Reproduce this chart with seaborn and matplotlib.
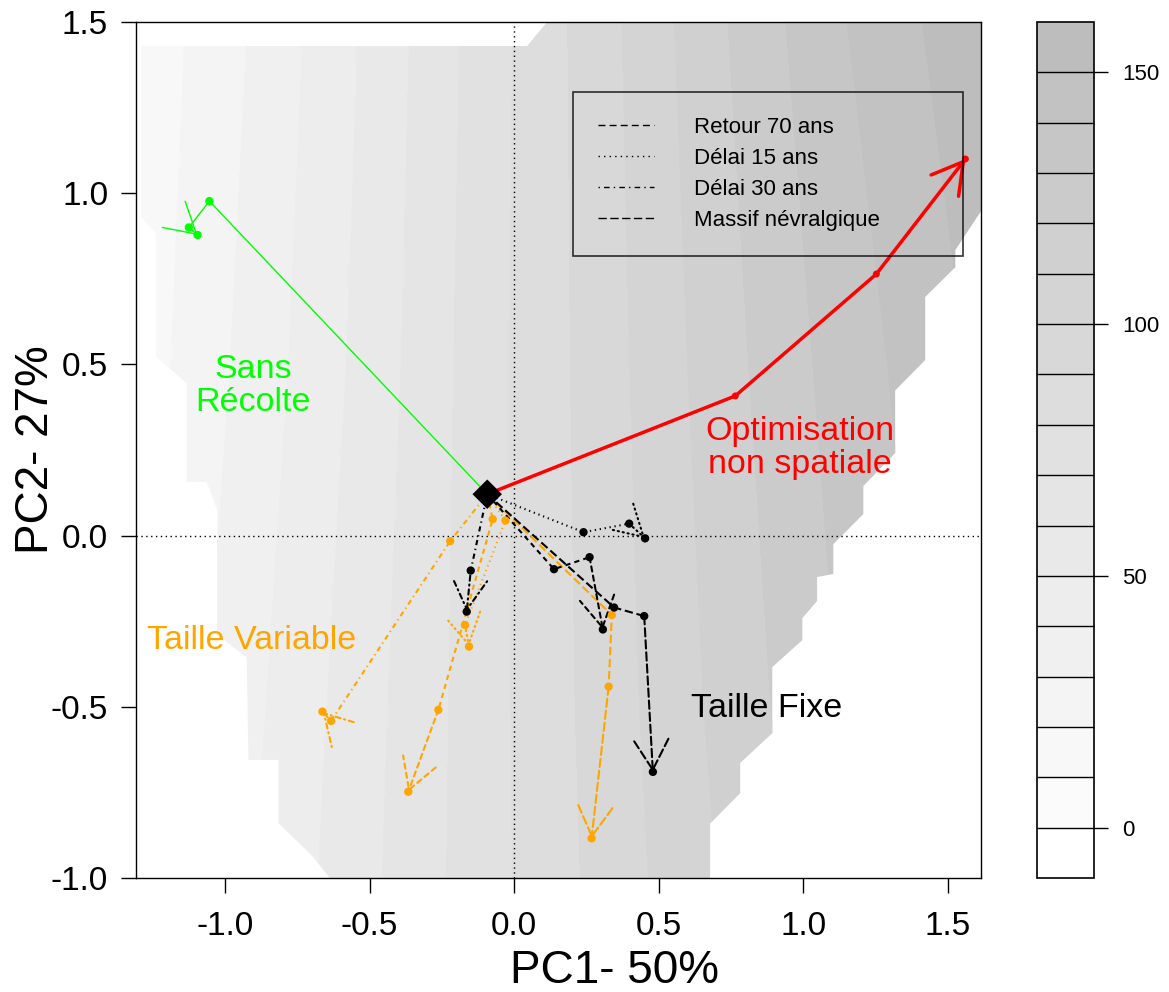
import matplotlib
matplotlib.use("Agg")
import matplotlib.pyplot as plt
from matplotlib.patches import Polygon, FancyArrowPatch
from matplotlib.lines import Line2D
import numpy as np
import seaborn as sns

# grey surface behind the trajectories, values
grid_x = [-1.31, -0.9, -0.5, -0.1, 0.3, 0.7, 1.1, 1.62]
grid_y = [-1.0, -0.5, 0.5, 1.5]
grid_z = [
    [20, 40, 58, 76, 93, 110, 127, 146],
    [18, 38, 57, 76, 94, 112, 129, 148],
    [14, 34, 54, 76, 95, 115, 133, 152],
    [12, 31, 52, 75, 96, 118, 138, 158],
]
levels = list(range(-10, 170, 10))
band_colors = ["#ffffff", "#fbfbfb", "#f8f8f8", "#f4f4f4", "#f0f0f0", "#ededed",
               "#e9e9e9", "#e5e5e5", "#e1e1e1", "#dddddd", "#d8d8d8", "#d4d4d4",
               "#d0d0d0", "#cbcbcb", "#c6c6c6", "#c2c2c2", "#bdbdbd"]

# outline of the area where the surface exists
hull_x = [-1.29, 0.045, 0.114, 1.62, 1.62, 1.526, 1.526, 1.422, 1.422, 1.318, 1.318,
          1.208, 1.208, 1.104, 1.104, 1.048, 1.048, 0.997, 0.997, 0.893, 0.893,
          0.782, 0.782, 0.678, 0.678, -0.637, -0.700, -0.815, -0.815, -0.919,
          -0.925, -1.027, -1.027, -1.063, -1.133, -1.133, -1.239, -1.239, -1.29]
hull_y = [1.43, 1.43, 1.5, 1.5, 0.954, 0.834, 0.784, 0.697, 0.513, 0.424, 0.241,
          0.145, 0.063, -0.025, -0.112, -0.121, -0.191, -0.241, -0.305, -0.384, -0.577,
          -0.664, -0.752, -0.841, -1.0, -1.0, -0.934, -0.840, -0.655, -0.655,
          -0.355, -0.29, 0.075, 0.157, 0.157, 0.445, 0.523, 0.883, 0.93]

start_x, start_y = -0.093, 0.121

sans_x = [-1.054, -1.125, -1.095]
sans_y = [0.977, 0.900, 0.878]
optim_x = [0.765, 1.253, 1.561]
optim_y = [0.408, 0.764, 1.100]

scenarios = ["Retour 70 ans", "Délai 15 ans", "Délai 30 ans", "Massif névralgique"]

# taille fixe (black), one path per scenario
fixe_x = [[0.138, 0.261, 0.307], [0.240, 0.398, 0.453],
          [-0.150, -0.164], [0.346, 0.450, 0.480]]
fixe_y = [[-0.098, -0.063, -0.274], [0.010, 0.035, -0.008],
          [-0.102, -0.222], [-0.210, -0.235, -0.690]]
# taille variable (orange)
var_x = [[-0.074, -0.262, -0.366], [-0.030, -0.170, -0.156],
         [-0.221, -0.633, -0.663], [0.338, 0.327, 0.268]]
var_y = [[0.048, -0.509, -0.748], [0.044, -0.261, -0.324],
         [-0.016, -0.541, -0.514], [-0.232, -0.441, -0.884]]

dash_styles = [(0, (2.5, 2.0)), (0, (0.6, 1.8)), (0, (0.6, 1.8, 2.5, 1.8)), (0, (4.0, 1.8))]
legend_dashes = [(0, (5, 3)), (0, (1, 3)), (0, (1, 3, 4, 3)), (0, (6, 2.5))]

sns.set_style("white")
plt.rcParams["font.family"] = ["Liberation Sans", "DejaVu Sans"]
plt.rcParams["text.color"] = "black"
plt.rcParams["axes.labelcolor"] = "black"
plt.rcParams["xtick.color"] = "black"
plt.rcParams["ytick.color"] = "black"

fig = plt.figure(figsize=(11.69, 9.92), dpi=100)
ax = fig.add_axes([0.1163, 0.1149, 0.7229, 0.8629])
cax = fig.add_axes([0.8871, 0.1149, 0.0488, 0.8629])

cs = ax.contourf(grid_x, grid_y, grid_z, levels=levels, colors=band_colors, zorder=0)
hull = Polygon(np.column_stack([hull_x, hull_y]), closed=True, transform=ax.transData)
cs.set_clip_path(hull)

ax.axhline(0, color="black", lw=1, ls=(0, (1, 2.5)), zorder=1)
ax.axvline(0, color="black", lw=1, ls=(0, (1, 2.5)), zorder=1)


def draw_path(xs, ys, color, lw, ls, msize):
    px = [start_x] + list(xs)
    py = [start_y] + list(ys)
    sns.lineplot(x=px[:-1], y=py[:-1], sort=False, estimator=None, color=color,
                 lw=lw, linestyle=ls, ax=ax, zorder=3)
    arrow = FancyArrowPatch((px[-2], py[-2]), (px[-1], py[-1]),
                            arrowstyle="->,head_length=21.7,head_width=12.5",
                            mutation_scale=1, color=color, lw=lw, linestyle=ls,
                            shrinkA=0, shrinkB=0, zorder=3)
    ax.add_patch(arrow)
    sns.scatterplot(x=list(xs), y=list(ys), color=color, s=msize ** 2,
                    edgecolor="none", ax=ax, zorder=4)


draw_path(sans_x, sans_y, "#00ff00", 1.0, "-", 6.0)
draw_path(optim_x, optim_y, "#ff0000", 2.5, "-", 5.0)
for xs, ys, ls in zip(var_x, var_y, dash_styles):
    draw_path(xs, ys, "#ffa500", 1.5, ls, 6.0)
for xs, ys, ls in zip(fixe_x, fixe_y, dash_styles):
    draw_path(xs, ys, "black", 1.5, ls, 6.0)

sns.scatterplot(x=[start_x], y=[start_y], marker="D", s=15 ** 2, color="black",
                edgecolor="none", ax=ax, zorder=5)

ax.text(-0.903, 0.437, "Sans\nRécolte", color="#00ff00", fontsize=24.5,
        ha="center", va="center", linespacing=1.1)
ax.text(0.990, 0.256, "Optimisation\nnon spatiale", color="#ff0000", fontsize=24.5,
        ha="center", va="center", linespacing=1.05)
ax.text(-0.907, -0.305, "Taille Variable", color="#ffa500", fontsize=24.5,
        ha="center", va="center")
ax.text(0.875, -0.504, "Taille Fixe", color="black", fontsize=24.5,
        ha="center", va="center")

handles = [Line2D([], [], color="black", lw=1, linestyle=ls) for ls in legend_dashes]
leg = ax.legend(handles, scenarios, loc="upper left",
                bbox_to_anchor=(0.5175, 0.7, 0.4608, 0.218), mode="expand",
                fontsize=16, frameon=True, fancybox=False,
                borderpad=1.12, labelspacing=0.45,
                handlelength=2.5, handletextpad=1.8, borderaxespad=0)
frame = leg.get_frame()
frame.set_facecolor("none")
frame.set_edgecolor("black")
frame.set_linewidth(1.2)

ax.set_xlim(-1.308, 1.615)
ax.set_ylim(-1.0, 1.5)
ax.set_xticks([-1.0, -0.5, 0.0, 0.5, 1.0, 1.5])
ax.set_yticks([-1.0, -0.5, 0.0, 0.5, 1.0, 1.5])
ax.set_xticklabels(["-1.0", "-0.5", "0.0", "0.5", "1.0", "1.5"])
ax.set_yticklabels(["-1.0", "-0.5", "0.0", "0.5", "1.0", "1.5"])
ax.tick_params(axis="both", direction="out", length=11, width=1, labelsize=24,
               color="black", labelcolor="black", left=True, bottom=True)
ax.tick_params(axis="x", pad=13)
ax.tick_params(axis="y", pad=9)
for sp in ax.spines.values():
    sp.set_visible(True)
    sp.set_color("black")
    sp.set_linewidth(1)

ax.set_xlabel("PC1- 50%", fontsize=33)
ax.xaxis.set_label_coords(0.566, -0.109)
ax.xaxis.label.set_va("center")
ax.set_ylabel("PC2- 27%", fontsize=33)
ax.yaxis.set_label_coords(-0.118, 0.5)
ax.yaxis.label.set_va("center")
ax.yaxis.label.set_ha("center")

cbar = fig.colorbar(cs, cax=cax, ticks=[0, 50, 100, 150], drawedges=True)
cbar.outline.set_linewidth(1.2)
cbar.outline.set_edgecolor("black")
cbar.dividers.set_color("black")
cbar.dividers.set_linewidth(1)
cax.tick_params(labelsize=16, length=10, width=1, pad=10, color="black",
                direction="out", right=True)

fig.savefig("out.png", dpi=100)
